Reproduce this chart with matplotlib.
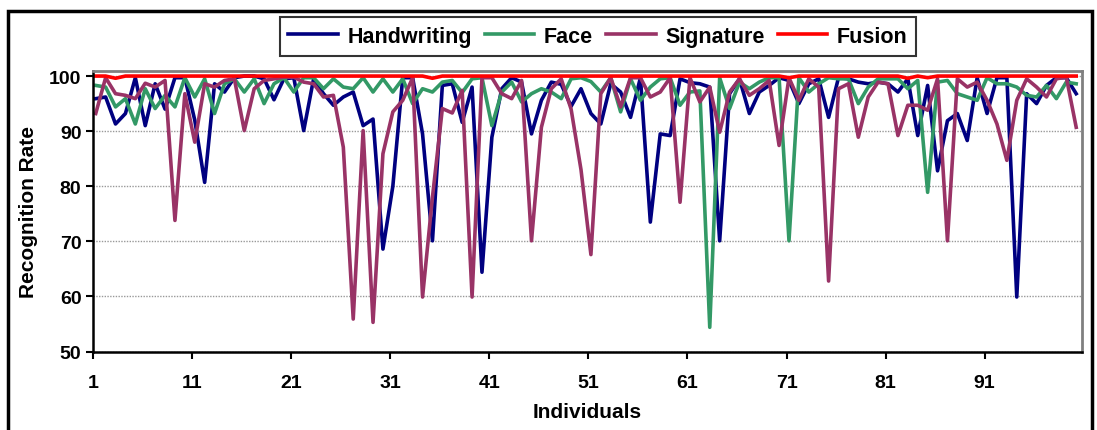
import numpy as np
import matplotlib.pyplot as plt
from matplotlib.patches import Rectangle

plt.rcParams['font.family'] = ['Liberation Sans', 'DejaVu Sans']
plt.rcParams['font.weight'] = 'bold'

individuals = np.arange(1, 101)

handwriting = [
    95.9, 96.2, 91.3, 93.2, 99.7, 91.0, 98.6, 94.0, 99.7, 99.7,
    92.0, 80.7, 98.6, 97.1, 99.7, 100, 100, 99.5, 95.7, 99.5,
    99.7, 90.1, 99.5, 96.8, 94.7, 96.2, 97.1, 91.0, 92.2, 68.6,
    80.0, 99.7, 99.7, 89.5, 70.1, 98.3, 98.6, 91.6, 98.0, 64.4,
    88.9, 97.7, 99.7, 98.9, 89.5, 95.6, 98.9, 98.5, 94.5, 97.7,
    93.2, 91.3, 98.6, 97.1, 92.5, 99.7, 73.5, 89.5, 89.2, 99.5,
    98.8, 98.6, 98.0, 70.1, 96.8, 99.5, 93.2, 97.1, 98.3, 99.7,
    99.2, 95.0, 98.6, 99.5, 92.5, 99.7, 99.5, 98.9, 98.6, 98.9,
    98.6, 97.1, 99.5, 89.2, 98.3, 82.8, 91.9, 93.2, 88.3, 99.7,
    93.2, 99.7, 99.7, 59.9, 96.8, 95.0, 98.3, 99.7, 99.7, 96.8,
]

face = [
    98.3, 98.0, 94.4, 95.9, 91.3, 97.7, 94.1, 96.5, 94.4, 99.7,
    96.2, 99.5, 93.2, 98.6, 99.5, 97.1, 99.5, 95.0, 98.6, 99.7,
    97.1, 99.7, 99.7, 97.7, 99.5, 98.0, 97.7, 99.7, 97.1, 99.5,
    97.1, 99.5, 95.0, 97.7, 97.1, 98.9, 99.2, 97.0, 99.5, 99.7,
    91.0, 97.1, 98.9, 95.3, 96.8, 97.7, 97.1, 95.9, 99.5, 99.7,
    99.0, 97.1, 99.7, 93.5, 99.5, 95.6, 98.0, 99.5, 99.7, 94.7,
    97.1, 97.3, 54.4, 99.7, 94.1, 98.9, 97.7, 98.9, 99.7, 99.7,
    70.1, 99.7, 97.1, 98.6, 99.7, 99.5, 99.5, 95.0, 98.0, 99.5,
    99.5, 99.5, 97.7, 99.2, 78.9, 98.9, 99.2, 96.8, 96.2, 95.6,
    99.7, 98.6, 98.6, 98.0, 96.5, 96.2, 98.3, 95.9, 98.9, 98.6,
]

signature = [
    93.2, 99.7, 96.8, 96.5, 95.9, 98.7, 98.0, 99.2, 73.8, 96.8,
    88.0, 98.6, 98.0, 99.2, 99.5, 90.1, 97.7, 99.2, 99.5, 99.8,
    99.8, 98.9, 98.6, 96.2, 96.5, 87.1, 55.9, 90.1, 55.3, 85.9,
    93.5, 95.6, 99.7, 59.9, 78.0, 94.1, 93.3, 97.4, 59.9, 99.7,
    99.7, 96.8, 95.9, 99.2, 70.1, 90.7, 97.7, 99.5, 94.0, 83.0,
    67.6, 96.8, 99.7, 94.4, 99.7, 99.7, 96.2, 97.1, 99.7, 77.1,
    99.7, 95.3, 98.0, 89.8, 97.1, 99.5, 96.5, 97.7, 99.2, 87.4,
    99.7, 95.6, 99.5, 98.0, 62.8, 97.7, 98.6, 88.9, 96.2, 98.9,
    98.6, 89.2, 94.7, 94.7, 93.8, 99.5, 70.1, 99.5, 98.0, 98.9,
    95.6, 91.3, 84.7, 95.6, 99.5, 98.0, 96.2, 99.5, 99.8, 90.7,
]

fusion = [100.0] * 100
fusion[2] = 99.6
fusion[34] = 99.6
fusion[70] = 99.7
fusion[82] = 99.6
fusion[84] = 99.7

fig = plt.figure(figsize=(10.97, 4.31), dpi=100)
ax = fig.add_axes([0.085, 0.182, 0.901, 0.652])

ax.plot(individuals, handwriting, color='#000080', lw=2.6, label='Handwriting')
ax.plot(individuals, face, color='#339966', lw=2.6, label='Face')
ax.plot(individuals, signature, color='#993366', lw=2.6, label='Signature')
ax.plot(individuals, fusion, color='#FF0000', lw=2.6, label='Fusion')

ax.set_xlim(0.75, 100.55)
ax.set_ylim(50, 101)
ax.set_yticks(range(50, 101, 10))
ax.set_xticks(np.arange(0.75, 100, 10))
ax.set_xticklabels([str(v) for v in range(1, 101, 10)])
ax.tick_params(axis='both', labelsize=14, width=1.5, length=5, direction='out')
ax.tick_params(axis='x', pad=11)
for lab in ax.get_xticklabels() + ax.get_yticklabels():
    lab.set_fontweight('bold')

ax.grid(axis='y', linestyle=(0, (1, 1)), color='#999999', lw=1)
ax.set_axisbelow(True)

ax.spines['left'].set_linewidth(1.8)
ax.spines['bottom'].set_linewidth(1.8)
ax.spines['top'].set_color('#808080')
ax.spines['right'].set_color('#808080')
ax.spines['top'].set_linewidth(2)
ax.spines['right'].set_linewidth(2)

ax.set_xlabel('Individuals', fontsize=15, fontweight='bold', labelpad=8)
ax.set_ylabel('Recognition Rate', fontsize=15, fontweight='bold', labelpad=8)

leg = fig.legend(loc='center', bbox_to_anchor=(0.545, 0.913), ncol=4,
                 fontsize=15.5, frameon=True, fancybox=False, edgecolor='black',
                 handlelength=2.3, columnspacing=0.6, handletextpad=0.45,
                 borderpad=0.4)
leg.get_frame().set_linewidth(1.5)
for t in leg.get_texts():
    t.set_fontweight('bold')

# chart border
fig.patches.append(Rectangle((8 / 1097, -0.05), 1084 / 1097, 1 - 12 / 431 + 0.05,
                             transform=fig.transFigure, fill=False,
                             edgecolor='black', lw=2.5))

fig.savefig('out.png', dpi=100)
